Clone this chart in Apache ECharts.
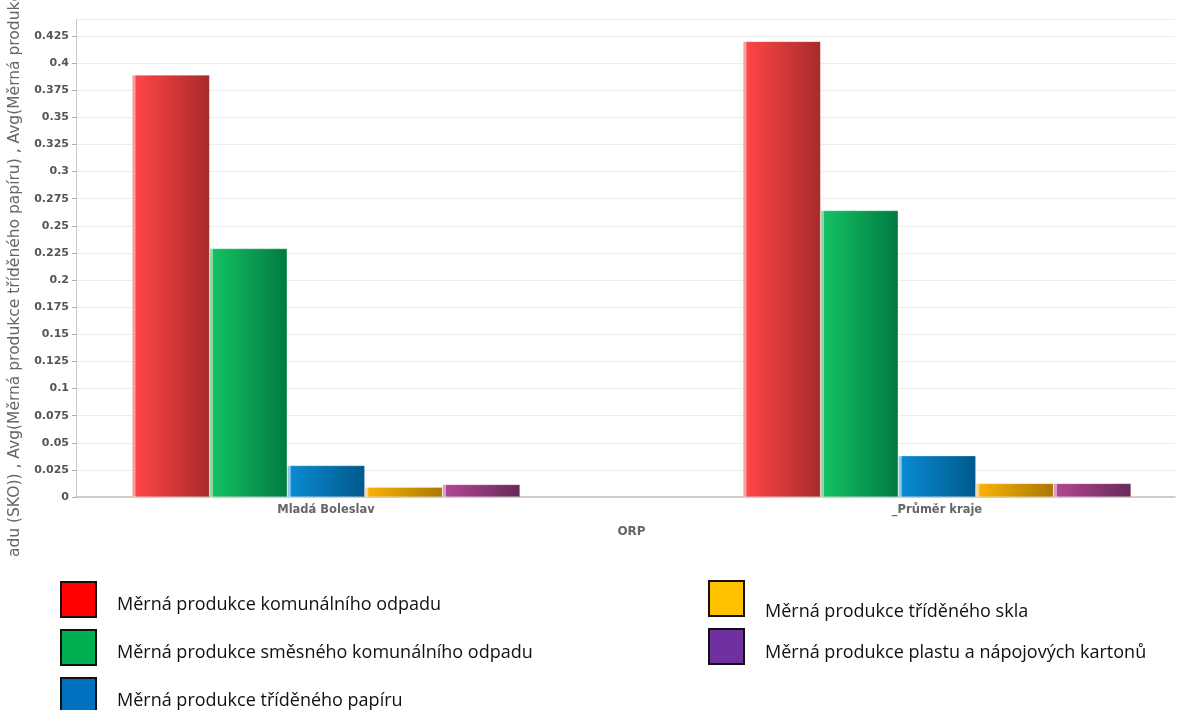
<!DOCTYPE html>
<html>
<head>
<meta charset="utf-8">
<script src="https://cdn.jsdelivr.net/npm/echarts@6/dist/echarts.min.js"></script>
<style>html,body{margin:0;padding:0;background:#fff;}#c{width:1177px;height:710px;}</style>
</head>
<body>
<div id="c"></div>
<script>
var categories = ['Mladá Boleslav', '_Průměr kraje'];
var seriesNames = [
  'Měrná produkce komunálního odpadu',
  'Měrná produkce směsného komunálního odpadu',
  'Měrná produkce tříděného papíru',
  'Měrná produkce tříděného skla',
  'Měrná produkce plastu a nápojových kartonů'
];
var komunalni = [0.389, 0.420];
var smesny = [0.229, 0.264];
var papir = [0.029, 0.038];
var sklo = [0.009, 0.0125];
var plast = [0.0115, 0.0125];
var yTicksMax = 0.44;
var yInterval = 0.025;
var yAxisName = 'Avg(Měrná produkce komunálního odpadu) , Avg(Měrná produkce směsného komunálního odpadu (SKO)) , Avg(Měrná produkce tříděného papíru) , Avg(Měrná produkce tříděného skla) , Avg(Měrná produkce plastu a nápojových kartonů)';

var values = [komunalni, smesny, papir, sklo, plast];
var barGrad = [
  ['#f4a0a0', '#ff4545', '#a82a2a'],
  ['#8ad8a8', '#14c063', '#007a40'],
  ['#90c8e8', '#0a8ad2', '#00598a'],
  ['#f8d890', '#f8b200', '#aa7600'],
  ['#d8a0c8', '#b04692', '#682a58']
];
var legendColors = ['#ff0000', '#00b050', '#0070c0', '#ffc000', '#7030a0'];
var legendPos = [
  {left: 60, top: 581},
  {left: 60, top: 629},
  {left: 60, top: 677},
  {left: 708, top: 580},
  {left: 708, top: 628}
];
var legendTextShift = [10, 10, 10, 26, 12];

var series = values.map(function (v, i) {
  return {
    name: seriesNames[i],
    type: 'bar',
    xAxisIndex: 1,
    yAxisIndex: 1,
    data: v,
    barWidth: 77.6,
    barGap: '0%',
    itemStyle: {
      color: new echarts.graphic.LinearGradient(0, 0, 1, 0, [
        {offset: 0, color: barGrad[i][0]},
        {offset: 0.04, color: barGrad[i][0]},
        {offset: 0.05, color: barGrad[i][1]},
        {offset: 1, color: barGrad[i][2]}
      ]),
      borderColor: 'rgba(255,255,255,0.5)',
      borderWidth: 0.5
    }
  };
});

var legends = seriesNames.map(function (n, i) {
  return {
    left: legendPos[i].left,
    top: legendPos[i].top,
    padding: 0,
    orient: 'vertical',
    itemWidth: 35,
    itemHeight: 35,
    itemGap: 0,
    selectedMode: false,
    icon: 'rect',
    data: [{name: n, itemStyle: {color: legendColors[i], borderColor: '#111', borderWidth: 2}}],
    formatter: function (name) { return '{t|' + name + '}'; },
    textStyle: {
      fontFamily: 'Open Sans', fontSize: 18, color: '#111', padding: [0, 0, 0, 16],
      rich: {t: {fontFamily: 'Open Sans', fontSize: 18, color: '#111', padding: [legendTextShift[i], 0, 0, 0]}}
    }
  };
});

var chart = echarts.init(document.getElementById('c'));
chart.setOption({
  animation: false,
  backgroundColor: '#fff',
  legend: legends,
  grid: [
    {left: 76, right: 2, top: 19.7, bottom: 213, outerBoundsMode: 'none', containLabel: false},
    {left: 20.5, width: 1222, top: 19.7, bottom: 213, outerBoundsMode: 'none', containLabel: false}
  ],
  xAxis: [
    {
      gridIndex: 0, type: 'value', min: 0, max: 1,
      axisLine: {show: true, lineStyle: {color: '#c0c0c0', width: 1.5}},
      axisTick: {show: false}, axisLabel: {show: false}, splitLine: {show: false}
    },
    {
      gridIndex: 1, type: 'category', data: categories,
      axisLine: {show: false}, axisTick: {show: false},
      axisLabel: {color: '#666', fontFamily: 'DejaVu Sans', fontWeight: 'bold', fontSize: 11.5, margin: 7},
      name: 'ORP', nameLocation: 'middle', nameGap: 29,
      nameTextStyle: {color: '#666', fontFamily: 'DejaVu Sans', fontWeight: 'bold', fontSize: 12}
    }
  ],
  yAxis: [
    {
      gridIndex: 0, type: 'value', min: 0, max: yTicksMax, interval: yInterval,
      axisLine: {show: true, lineStyle: {color: '#c8c8c8'}},
      axisTick: {show: true, length: 4, lineStyle: {color: '#aaa'}},
      axisLabel: {
        color: '#555', fontFamily: 'DejaVu Sans', fontWeight: 'bold', fontSize: 11, margin: 7,
        showMaxLabel: false,
        formatter: function (v) { return String(+v.toFixed(3)); }
      },
      splitLine: {show: true, lineStyle: {color: '#ececec'}},
      name: yAxisName, nameLocation: 'middle', nameGap: 50,
      nameTextStyle: {color: '#666', fontFamily: 'DejaVu Sans', fontSize: 15.5, padding: [0, 228, 0, 0]}
    },
    {
      gridIndex: 1, type: 'value', min: 0, max: yTicksMax, show: false, splitLine: {show: false}
    }
  ],
  graphic: [
    {type: 'rect', shape: {x: 0, y: 557, width: 45, height: 153}, style: {fill: '#fff'}, z: 100}
  ],
  series: series
});
</script>
</body>
</html>
